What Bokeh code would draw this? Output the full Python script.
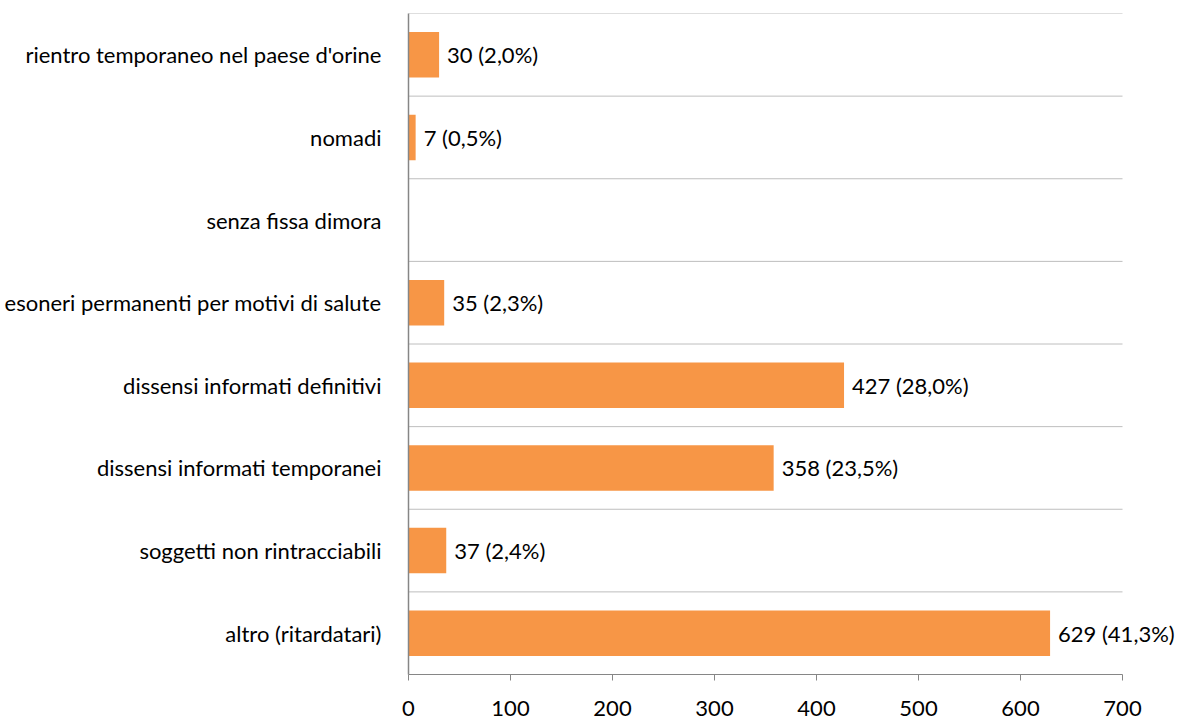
from bokeh.plotting import figure
from bokeh.models import ColumnDataSource, FixedTicker, Range1d, LabelSet
from bokeh.core.properties import value
from bokeh.embed import file_html
from bokeh.resources import INLINE

categories = ["rientro temporaneo nel paese d'orine", "nomadi", "senza fissa dimora",
              "esoneri permanenti per motivi di salute", "dissensi informati definitivi",
              "dissensi informati temporanei", "soggetti non rintracciabili", "altro (ritardatari)"]
values = [30, 7, 0, 35, 427, 358, 37, 629]
labels = ["30 (2,0%)", "7 (0,5%)", "", "35 (2,3%)", "427 (28,0%)", "358 (23,5%)", "37 (2,4%)", "629 (41,3%)"]
x_ticks = [0, 100, 200, 300, 400, 500, 600, 700]
x_max = 700

FONT = "Lato"
FS = "22px"
n = len(categories)
ypos = [n - i - 0.5 for i in range(n)]

W, H = 1177, 720
LEFT, RIGHT_AXIS, TOP, BOTTOM = 408, 1122, 13, 674
x_end = x_max * (W - LEFT) / (RIGHT_AXIS - LEFT)

src = ColumnDataSource(dict(y=ypos, v=values, lab=labels, cat=categories))

p = figure(width=W, height=H, output_backend="svg", toolbar_location=None,
           x_range=Range1d(0, x_end), y_range=Range1d(0, n),
           min_border_left=LEFT, min_border_right=0, min_border_top=TOP,
           min_border_bottom=H - BOTTOM)
p.outline_line_color = None

# separator lines between categories
p.segment(x0=0, x1=x_max, y0=list(range(1, n + 1)), y1=list(range(1, n + 1)),
          line_color="#BEBEBE", line_width=1)

p.hbar(y="y", right="v", left=0, height=0.55, source=src, color="#F79646", line_color=None)

p.add_layout(LabelSet(x="v", y="y", text="lab", source=src, x_offset=8, y_offset=0,
                      text_baseline="middle", text_font=value(FONT), text_font_size=FS,
                      text_color="#000000"))

# x axis
p.xaxis.bounds = (0, x_max)
p.xaxis.ticker = FixedTicker(ticks=x_ticks)
p.xaxis.axis_line_color = "#868686"
p.xaxis.major_tick_line_color = "#868686"
p.xaxis.major_tick_out = 6
p.xaxis.major_tick_in = 0
p.xaxis.minor_tick_line_color = None
p.xaxis.major_label_text_font = FONT
p.xaxis.major_label_text_font_size = FS
p.xaxis.major_label_text_color = "#000000"
p.xaxis.major_label_standoff = 20

# y axis
p.yaxis.ticker = FixedTicker(ticks=ypos)
p.yaxis.major_label_overrides = {y: c for y, c in zip(ypos, categories)}
p.yaxis.axis_line_color = "#868686"
p.yaxis.axis_line_width = 1.5
p.yaxis.major_tick_line_color = None
p.yaxis.minor_tick_line_color = None
p.yaxis.major_label_text_font = FONT
p.yaxis.major_label_text_font_size = FS
p.yaxis.major_label_text_color = "#000000"
p.yaxis.major_label_standoff = 21

p.xgrid.grid_line_color = None
p.ygrid.grid_line_color = None

open("out.html", "w").write(file_html(p, INLINE))
